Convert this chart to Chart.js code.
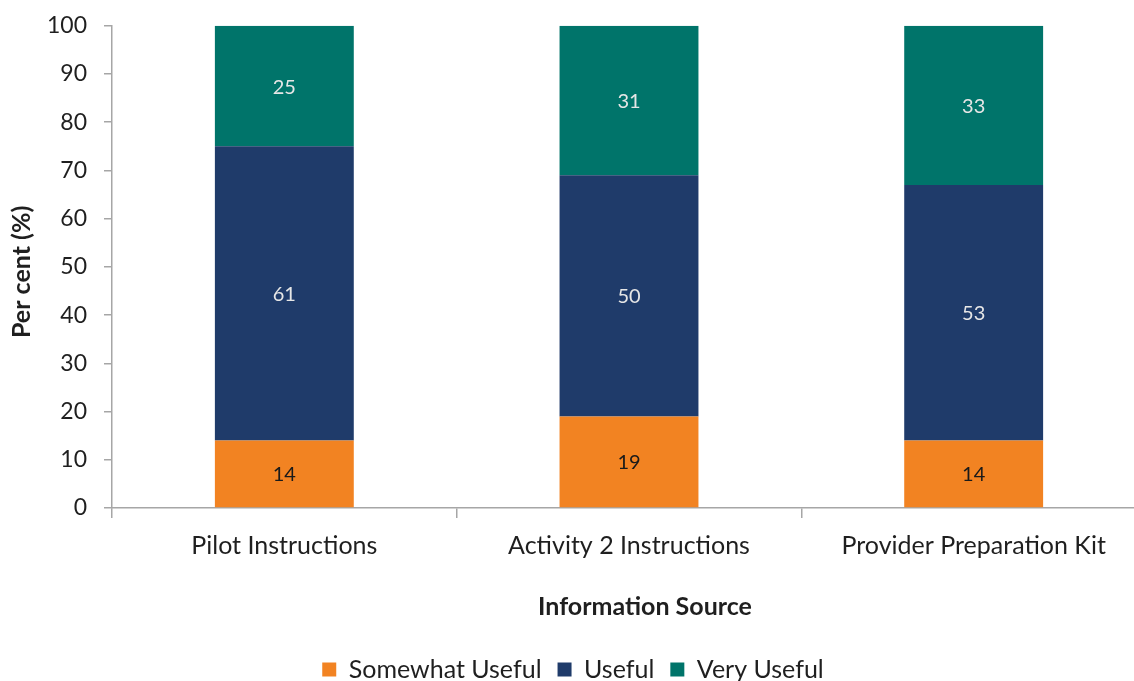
<!DOCTYPE html>
<html>
<head>
<meta charset="utf-8">
<script src="https://cdn.jsdelivr.net/npm/chart.js@4"></script>
<style>
  html, body { margin: 0; padding: 0; overflow: hidden; background: #fff; }
  #wrap { position: relative; width: 1134px; height: 681px; overflow: hidden; }
  #chart { position: absolute; left: 0; top: -5px; display: block; }
</style>
</head>
<body>
<div id="wrap"><canvas id="chart" width="1150" height="697"></canvas></div>
<script>
// --- Data ---
const categories = ['Pilot Instructions', 'Activity 2 Instructions', 'Provider Preparation Kit']
const somewhatUseful = [14, 19, 14]
const useful = [61, 50, 53]
const veryUseful = [25, 31, 33]
const yTicks = [0, 10, 20, 30, 40, 50, 60, 70, 80, 90, 100]

const FONT = 'Lato, "Open Sans", sans-serif'
const TEXT = '#1f1f1f'
const AXIS = '#a6a6a6'

// Value labels centred inside each stacked segment
const segmentLabels = {
  id: 'segmentLabels',
  afterDatasetsDraw(chart) {
    const ctx = chart.ctx
    ctx.save()
    ctx.font = '20px ' + FONT
    ctx.textAlign = 'center'
    ctx.textBaseline = 'middle'
    chart.data.datasets.forEach((ds, i) => {
      const meta = chart.getDatasetMeta(i)
      meta.data.forEach((bar, j) => {
        const { x, y, base } = bar.getProps(['x', 'y', 'base'], true)
        ctx.fillStyle = ds.labelColor
        ctx.fillText(String(ds.data[j]), x, (y + base) / 2 + 1)
      })
    })
    ctx.restore()
  }
}

// Axis titles, placed relative to the chart area the way the original sits
const axisTitles = {
  id: 'axisTitles',
  afterDraw(chart) {
    const { ctx, chartArea } = chart
    ctx.save()
    ctx.fillStyle = TEXT
    ctx.font = 'bold 25px ' + FONT
    ctx.textAlign = 'center'
    ctx.textBaseline = 'middle'
    ctx.fillText('Information Source', chartArea.left + 533, chartArea.bottom + 99)
    ctx.translate(22, (chartArea.top + chartArea.bottom) / 2 + 5)
    ctx.rotate(-Math.PI / 2)
    ctx.fillText('Per cent (%)', 0, 0)
    ctx.restore()
  }
}

new Chart(document.getElementById('chart'), {
  type: 'bar',
  data: {
    labels: categories,
    datasets: [
      { label: 'Somewhat Useful', data: somewhatUseful, backgroundColor: '#F28322', labelColor: '#1a1a1a' },
      { label: 'Useful', data: useful, backgroundColor: '#1F3B6A', labelColor: '#e6e6e6' },
      { label: 'Very Useful', data: veryUseful, backgroundColor: '#00746A', labelColor: '#e6e6e6' }
    ].map(ds => Object.assign({ barPercentage: 0.403, categoryPercentage: 1, borderWidth: 0 }, ds))
  },
  options: {
    responsive: false,
    devicePixelRatio: 1,
    animation: false,
    layout: { padding: { top: 20, right: 4, left: 0, bottom: 0 } },
    plugins: {
      tooltip: { enabled: false },
      legend: {
        position: 'bottom',
        labels: {
          boxWidth: 14,
          boxHeight: 14,
          padding: 16,
          color: TEXT,
          font: { family: FONT, size: 25 }
        }
      }
    },
    scales: {
      x: {
        stacked: true,
        afterFit(scale) { scale.height = 133 },
        border: { color: AXIS, width: 1.5 },
        grid: { drawOnChartArea: false, tickLength: 10, color: AXIS, lineWidth: 1.5, offset: true },
        ticks: { color: TEXT, padding: 13, font: { family: FONT, size: 25 } }
      },
      y: {
        stacked: true,
        min: 0,
        max: 100,
        afterFit(scale) { scale.width = 112 },
        afterBuildTicks(scale) { scale.ticks = yTicks.map(v => ({ value: v })) },
        border: { color: AXIS, width: 1.5 },
        grid: { drawOnChartArea: false, tickLength: 8, color: AXIS, lineWidth: 1.5 },
        ticks: { color: TEXT, padding: 17, font: { family: FONT, size: 23 } }
      }
    }
  },
  plugins: [segmentLabels, axisTitles]
})
</script>
</body>
</html>
